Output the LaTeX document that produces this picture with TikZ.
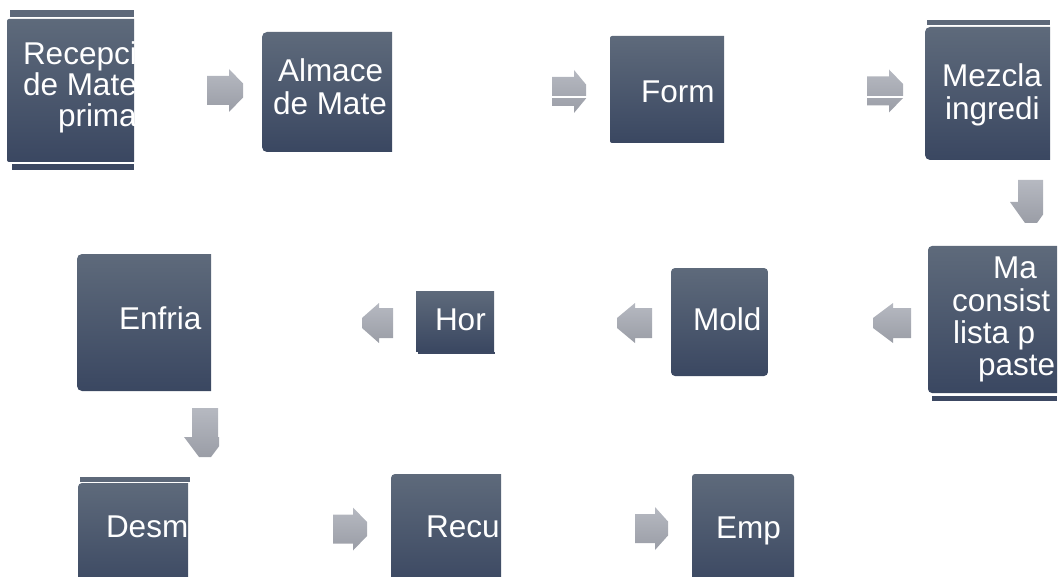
\documentclass[tikz,border=0pt]{standalone}
\usepackage{fontspec}
\setmainfont{Liberation Sans}
\definecolor{boxtop}{HTML}{5E6A7B}
\definecolor{boxmid}{HTML}{4A5976}
\definecolor{boxbot}{HTML}{3A4761}
\definecolor{arrtop}{HTML}{B6B9C1}
\definecolor{arrbot}{HTML}{9A9DA6}
\definecolor{striplight}{HTML}{5D6879}
\definecolor{stripdark}{HTML}{3C4862}
\newcommand\ArrR[4]{% tail x, head start x, tip x, centre y
  \path[arrowshade] (#1,{#4-14.5}) -- (#2,{#4-14.5}) -- (#2,{#4-21.5}) -- (#3,{#4-7}) -- (#3,{#4+7}) -- (#2,{#4+21.5}) -- (#2,{#4+14.5}) -- (#1,{#4+14.5}) -- cycle;}
\newcommand\ArrL[4]{% tip x, head start x, tail x, centre y
  \path[arrowshade] (#3,{#4-15}) -- (#2,{#4-15}) -- (#2,{#4-20}) -- (#1,{#4-5}) -- (#1,{#4+5}) -- (#2,{#4+20}) -- (#2,{#4+15}) -- (#3,{#4+15}) -- cycle;}
\newcommand\ArrD[4]{% centre x, tail y, head start y, tip y
  \path[arrowshade] ({#1-13},#2) -- ({#1+13},#2) -- ({#1+13},#3) -- ({#1+21},#3) -- ({#1+6},#4) -- ({#1-6},#4) -- ({#1-21},#3) -- ({#1-13},#3) -- cycle;}
\begin{document}
\begin{tikzpicture}[x=1pt,y=-1pt,
  boxbase/.style={inner sep=0pt, outer sep=0pt, draw=none, anchor=north west,
    top color=boxtop, middle color=boxmid, bottom color=boxbot},
  lbl/.style={text=white, font=\fontsize{31.5}{34}\selectfont, inner sep=0pt, outer sep=0pt, anchor=base west},
  arrowshade/.style={draw=none, top color=arrtop, bottom color=arrbot},
  stripL/.style={fill=striplight},
  stripD/.style={fill=stripdark},
  gap/.style={draw=white, line width=1.5pt}]
\useasboundingbox (0,0) rectangle (1059,577);

% ---- Box 1: Recepci
\fill[stripL] (10,10) rectangle (134,17);
\fill[stripD] (12,164) rectangle (134,170);
\begin{scope}
  \clip (0,0) rectangle (134,577);
  \node[boxbase, minimum width=140pt, minimum height=143pt, rounded corners=2pt] (recep) at (7,19) {};
  \node[lbl] (recepA) at (23,65) {Recepci};
  \node[lbl] (recepB) at (23,96) {de Mate};
  \node[lbl] (recepC) at (58,127) {prima};
\end{scope}

% ---- Box 2: Almace
\begin{scope}
  \clip (0,0) rectangle (392,577);
  \node[boxbase, minimum width=140pt, minimum height=120pt, rounded corners=5pt] (almac) at (262,32) {};
  \node[lbl] (almacA) at (278,82) {Almace};
  \node[lbl] (almacB) at (273,115) {de Mate};
\end{scope}

% ---- Box 3: Form
\begin{scope}
  \clip (0,0) rectangle (724,577);
  \node[boxbase, minimum width=120pt, minimum height=107pt, rounded corners=2pt] (form) at (610,36) {};
  \node[lbl] (formA) at (641,103) {Form};
\end{scope}

% ---- Box 4: Mezcla
\fill[stripL] (927,20) rectangle (1050,25);
\begin{scope}
  \clip (0,0) rectangle (1050,577);
  \node[boxbase, minimum width=135pt, minimum height=133pt, rounded corners=5pt] (mezcla) at (925,27) {};
  \node[lbl] (mezclaA) at (942,87) {Mezcla};
  \node[lbl] (mezclaB) at (945,120) {ingredi};
\end{scope}

% ---- Box 5: Ma consist lista p paste
\fill[stripD] (932,396) rectangle (1057,401);
\begin{scope}
  \clip (0,0) rectangle (1057,577);
  \node[boxbase, minimum width=140pt, minimum height=147pt, rounded corners=4pt] (masa) at (928,246) {};
  \node[lbl] (masaA) at (993,278) {Ma};
  \node[lbl] (masaB) at (952,311) {consist};
  \node[lbl] (masaC) at (953,343) {lista p};
  \node[lbl] (masaD) at (978,375) {paste};
\end{scope}

% ---- Box 6: Mold
\node[boxbase, minimum width=97pt, minimum height=108pt, rounded corners=4pt] (mold) at (671,268) {};
\node[lbl] (moldA) at (693,330) {Mold};

% ---- Box 7: Hor
\fill[stripD] (418,352) rectangle (495,354);
\begin{scope}
  \clip (0,0) rectangle (494,577);
  \node[boxbase, minimum width=78pt, minimum height=60pt] (horno) at (416,291) {};
  \node[lbl] (hornoA) at (435,330) {Hor};
\end{scope}

% ---- Box 8: Enfria
\begin{scope}
  \clip (0,0) rectangle (211,577);
  \node[boxbase, minimum width=144pt, minimum height=137pt, rounded corners=5pt] (enfr) at (77,254) {};
  \node[lbl] (enfrA) at (119,329) {Enfria};
\end{scope}

% ---- Box 9: Desm
\fill[stripL] (80,477) rectangle (190,482);
\begin{scope}
  \clip (0,0) rectangle (188,577);
  \node[boxbase, minimum width=120pt, minimum height=110pt, rounded corners=4pt] (desm) at (78,483) {};
  \node[lbl] (desmA) at (106,537) {Desm};
\end{scope}

% ---- Box 10: Recu
\begin{scope}
  \clip (0,0) rectangle (501,577);
  \node[boxbase, minimum width=120pt, minimum height=115pt, rounded corners=4pt] (recu) at (391,474) {};
  \node[lbl] (recuA) at (426,537) {Recu};
\end{scope}

% ---- Box 11: Emp
\begin{scope}
  \clip (0,0) rectangle (1059,577);
  \node[boxbase, minimum width=102pt, minimum height=115pt, rounded corners=3pt] (emp) at (692,474) {};
  \node[lbl] (empA) at (716,538) {Emp};
\end{scope}

% ---- Block arrows
\ArrR{207}{229}{243}{90.5}
\ArrR{552}{574}{586}{91.5}
\draw[gap] (551,97) -- (587,97);
\ArrR{867}{889}{903}{91}
\draw[gap] (866,97) -- (904,97);
\begin{scope}
  \clip (0,0) rectangle (1043,577);
  \ArrD{1031}{180}{202}{223}
\end{scope}
\ArrL{873}{893}{911}{323}
\ArrL{617}{635}{652}{323}
\ArrL{362}{379}{393}{323}
\begin{scope}
  \clip (0,0) rectangle (219,577);
  \ArrD{205}{408}{437}{457}
\end{scope}
\ArrR{333}{353}{367}{529}
\ArrR{635}{655}{668}{528.5}
\end{tikzpicture}
\end{document}
